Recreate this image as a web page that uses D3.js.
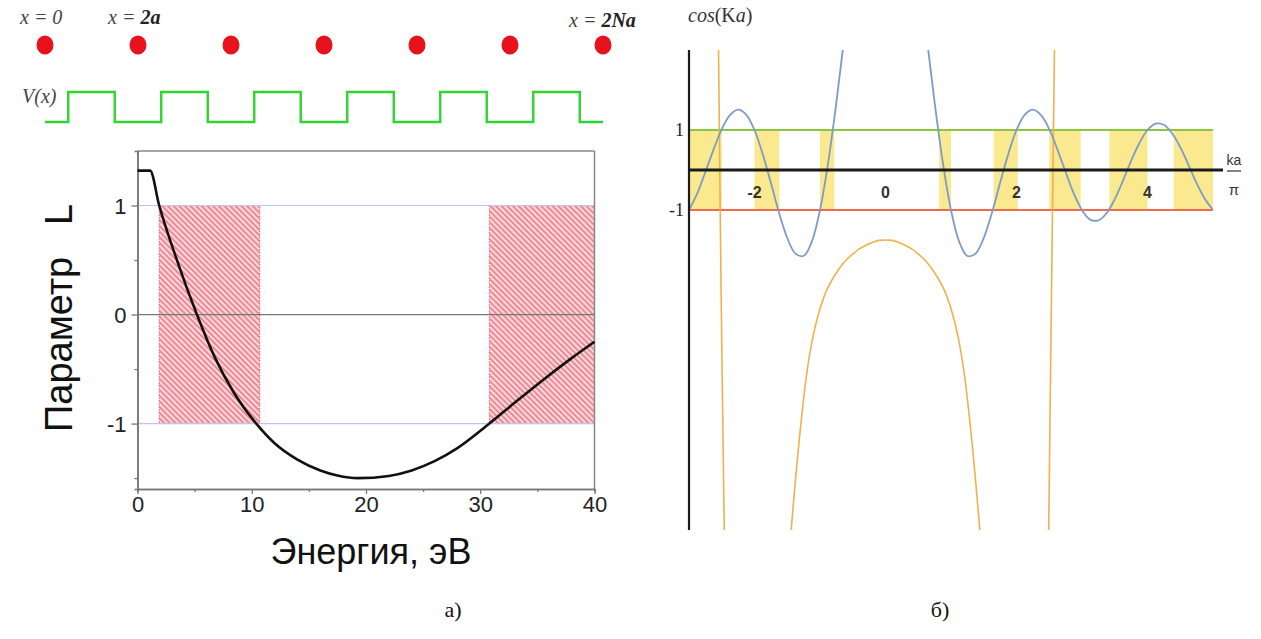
<!DOCTYPE html>
<html>
<head>
<meta charset="utf-8">
<script src="https://cdn.jsdelivr.net/npm/d3@7"></script>
<style>
  html, body { margin: 0; padding: 0; background: #fff; }
  svg { display: block; }
</style>
</head>
<body>
<svg id="fig" width="1261" height="639"></svg>
<script>
// ---------- lattice sketch (top left) ----------
const atomPositions = [0, 2, 4, 6, 8, 10, 12];          // in units of a
const barrierStart  = [0.5, 2.5, 4.5, 6.5, 8.5, 10.5];  // V(x) steps up
const barrierEnd    = [1.5, 3.5, 5.5, 7.5, 9.5, 11.5];  // V(x) steps down
const latticeExtent = [0, 12];

// ---------- panel a): parameter L versus energy ----------
const energy = [0, 1.1, 1.9, 3.55, 5.2, 6.8, 8.4, 10.4, 12, 14, 16, 17.5, 19.3, 22, 24, 26, 28, 30.8, 33, 35.5, 38, 40];
const paramL = [1.32, 1.32, 1.0, 0.47, 0, -0.4, -0.71, -1.0, -1.18, -1.33, -1.43, -1.476, -1.5, -1.48, -1.43, -1.345, -1.225, -1.0, -0.81, -0.6, -0.4, -0.25];
const allowedE0 = [1.9, 30.8];   // allowed band starts, eV
const allowedE1 = [10.7, 40];    // allowed band ends, eV
const energyTicks = [0, 10, 20, 30, 40];
const energyMinor = [5, 15, 25, 35];
const lTicks = [-1, 0, 1];
const lMinor = [-1.5, -0.5, 0.5];

// ---------- panel б): cos(Ka) versus ka/pi ----------
const kaBlue = [-3, -2.875, -2.75, -2.625, -2.5, -2.375, -2.25, -2.125, -2, -1.875, -1.75, -1.625, -1.5, -1.375, -1.25, -1.125, -1, -0.875, -0.75, -0.625, -0.5,
                NaN,
                0.5, 0.625, 0.75, 0.875, 1, 1.125, 1.25, 1.375, 1.5, 1.625, 1.75, 1.875, 2, 2.125, 2.25, 2.375, 2.5, 2.625, 2.75, 2.875, 3,
                3.125, 3.25, 3.375, 3.5, 3.625, 3.75, 3.875, 4, 4.125, 4.25, 4.375, 4.5, 4.625, 4.75, 4.875, 5];
const cosBlue = [-1.0, -0.59, -0.05, 0.51, 1.02, 1.37, 1.51, 1.38, 1.0, 0.40, -0.32, -1.07, -1.70, -2.09, -2.15, -1.79, -1.0, 0.19, 1.69, 3.38, 5.1,
                 NaN,
                 5.1, 3.38, 1.69, 0.19, -1.0, -1.79, -2.15, -2.09, -1.70, -1.07, -0.32, 0.40, 1.0, 1.38, 1.51, 1.37, 1.02, 0.51, -0.05, -0.59, -1.0,
                 -1.24, -1.26, -1.08, -0.73, -0.27, 0.23, 0.67, 1.0, 1.16, 1.13, 0.92, 0.57, 0.13, -0.33, -0.72, -1.0];
const kaOrange = [-2.55, -2.51, -2.46,
                  NaN,
                  -1.45, -1.4, -1.3, -1.2, -1.1, -1.0, -0.9, -0.8, -0.7, -0.6, -0.5, -0.4, -0.3, -0.2, -0.1, 0,
                  0.1, 0.2, 0.3, 0.4, 0.5, 0.6, 0.7, 0.8, 0.9, 1.0, 1.1, 1.2, 1.3, 1.4, 1.45,
                  NaN,
                  2.58, 2.535, 2.49];
const cosOrange = [3.1, -3.0, -9.2,
                   NaN,
                   -9.21, -8.22, -6.48, -5.06, -4.11, -3.47, -3.01, -2.70, -2.45, -2.25, -2.10, -1.97, -1.88, -1.81, -1.76, -1.75,
                   -1.76, -1.81, -1.88, -1.97, -2.10, -2.25, -2.45, -2.70, -3.01, -3.47, -4.11, -5.06, -6.48, -8.22, -9.21,
                   NaN,
                   3.1, -3.0, -9.2];
const bandStart = [-3, -2.0, -1.0, 0.82, 1.65, 2.5, 3.42, 4.4];
const bandEnd   = [-2.5, -1.62, -0.78, 1.0, 2.02, 2.98, 4.0, 5.0];
const kaTicks = [-2, 0, 2, 4];
const cosTicks = [-1, 1];

const svg = d3.select("#fig");
svg.append("rect").attr("width", 1261).attr("height", 639).attr("fill", "#fff");
const defs = svg.append("defs");
const hyphenInt = d => d3.format("d")(d).replace("\u2212", "-");

// =============== lattice & potential ===============
const xLat = d3.scaleLinear().domain(latticeExtent).range([45, 603]);
const yPot = d3.scaleOrdinal().domain(["low", "high"]).range([122, 92]);

svg.append("g").selectAll("ellipse").data(atomPositions).join("ellipse")
  .attr("cx", d => xLat(d)).attr("cy", 45).attr("rx", 8.5).attr("ry", 9.5)
  .attr("fill", "#e8121c");

const potPts = [[latticeExtent[0], "low"]];
barrierStart.forEach((s, i) => {
  potPts.push([s, "low"], [s, "high"], [barrierEnd[i], "high"], [barrierEnd[i], "low"]);
});
potPts.push([latticeExtent[1], "low"]);
svg.append("path")
  .attr("d", d3.line().x(d => xLat(d[0])).y(d => yPot(d[1]))(potPts))
  .attr("fill", "none").attr("stroke", "#2fd42f").attr("stroke-width", 2.4);

const serif = "'Liberation Serif', 'DejaVu Serif', serif";
function latLabel(x, y, plain, bold) {
  const t = svg.append("text").attr("x", x).attr("y", y)
    .attr("font-family", serif).attr("font-size", 20).attr("font-style", "italic").attr("fill", "#444");
  t.append("tspan").text(plain);
  if (bold) t.append("tspan").attr("font-weight", "bold").attr("fill", "#222").text(bold);
}
latLabel(20, 24, "x = 0");
latLabel(108, 24, "x = ", "2a");
latLabel(569, 27, "x = ", "2Na");
svg.append("text").attr("x", 22).attr("y", 103)
  .attr("font-family", serif).attr("font-size", 20).attr("font-style", "italic").attr("fill", "#444")
  .text("V(x)");

// =============== panel a) ===============
const sans = "'Liberation Sans', Arial, sans-serif";
const xE = d3.scaleLinear().domain([0, 40]).range([137.5, 594.5]);
const yL = d3.scaleLinear().domain([-1.6, 1.5]).range([489, 151]);

// hatched fill for allowed bands
const pat = defs.append("pattern").attr("id", "hatch")
  .attr("patternUnits", "userSpaceOnUse").attr("width", 4).attr("height", 4)
  .attr("patternTransform", "rotate(-45)");
pat.append("rect").attr("width", 4).attr("height", 4).attr("fill", "#fbd9dc");
pat.append("line").attr("x1", 1).attr("y1", 0).attr("x2", 1).attr("y2", 4)
  .attr("stroke", "#e9707c").attr("stroke-width", 1.5);

const gA = svg.append("g");
gA.selectAll("rect.band").data(allowedE0).join("rect").attr("class", "band")
  .attr("x", d => xE(d)).attr("y", yL(1))
  .attr("width", (d, i) => xE(allowedE1[i]) - xE(d)).attr("height", yL(-1) - yL(1))
  .attr("fill", "url(#hatch)").attr("stroke", "#e45a6a").attr("stroke-width", 1)
  .attr("stroke-dasharray", "1.5,1.5");

// reference levels L = ±1 and L = 0
gA.selectAll("line.lev").data([1, -1]).join("line").attr("class", "lev")
  .attr("x1", xE(0)).attr("x2", xE(40)).attr("y1", d => yL(d)).attr("y2", d => yL(d))
  .attr("stroke", "#c3c3ee").attr("stroke-width", 1.2);
gA.append("line").attr("x1", xE(0)).attr("x2", xE(40)).attr("y1", yL(0)).attr("y2", yL(0))
  .attr("stroke", "#777").attr("stroke-width", 1.3);

// frame
gA.append("line").attr("x1", xE(0)).attr("x2", xE(40)).attr("y1", yL(1.5)).attr("y2", yL(1.5))
  .attr("stroke", "#888").attr("stroke-width", 1.5);
gA.append("line").attr("x1", xE(40)).attr("x2", xE(40)).attr("y1", yL(1.5)).attr("y2", yL(-1.6))
  .attr("stroke", "#888").attr("stroke-width", 1.5);

// axes
const axB = gA.append("g").attr("transform", `translate(0,${yL(-1.6)})`)
  .call(d3.axisBottom(xE).tickValues(energyTicks).tickSize(5).tickSizeOuter(0).tickPadding(4));
const axBm = gA.append("g").attr("transform", `translate(0,${yL(-1.6)})`)
  .call(d3.axisBottom(xE).tickValues(energyMinor).tickSize(3).tickFormat(""));
const axL = gA.append("g").attr("transform", `translate(${xE(0)},0)`)
  .call(d3.axisLeft(yL).tickValues(lTicks).tickSize(6).tickSizeOuter(0).tickPadding(5).tickFormat(hyphenInt));
const axLm = gA.append("g").attr("transform", `translate(${xE(0)},0)`)
  .call(d3.axisLeft(yL).tickValues(lMinor).tickSize(3).tickFormat(""));
[axB, axBm, axL, axLm].forEach(a => {
  a.select(".domain").attr("stroke", "#777").attr("stroke-width", 1.6);
  a.selectAll(".tick line").attr("stroke", "#777").attr("stroke-width", 1.3);
  a.selectAll("text").attr("font-family", sans).attr("font-size", 22).attr("fill", "#222");
});
axB.selectAll("text").attr("dy", "0.62em");
axL.selectAll("text").attr("dy", "0.35em");

// L(E) curve
gA.append("path")
  .attr("d", d3.line().x((d, i) => xE(d)).y((d, i) => yL(paramL[i])).curve(d3.curveMonotoneX)(energy))
  .attr("fill", "none").attr("stroke", "#111").attr("stroke-width", 2.6);

// axis titles
gA.append("text").attr("x", 371).attr("y", 564).attr("text-anchor", "middle")
  .attr("font-family", sans).attr("font-size", 36).attr("fill", "#111").text("Энергия, эВ");
gA.append("text").attr("transform", `translate(72,318) rotate(-90)`).attr("text-anchor", "middle")
  .attr("font-family", sans).attr("font-size", 38).attr("fill", "#111").attr("xml:space", "preserve")
  .text("Параметр   L");

// =============== panel б) ===============
const xK = d3.scaleLinear().domain([-3, 5]).range([689, 1213]);
const yC = d3.scaleLinear().domain([-9, 3]).range([530, 50]);

defs.append("clipPath").attr("id", "clipB").append("rect")
  .attr("x", xK(-3)).attr("y", yC(3)).attr("width", xK(5) - xK(-3)).attr("height", yC(-9) - yC(3));

const gB = svg.append("g");
gB.selectAll("rect.allowed").data(bandStart).join("rect").attr("class", "allowed")
  .attr("x", d => xK(d)).attr("y", yC(1))
  .attr("width", (d, i) => xK(bandEnd[i]) - xK(d)).attr("height", yC(-1) - yC(1))
  .attr("fill", "#fbe98f");

gB.append("line").attr("x1", xK(-3)).attr("x2", xK(5)).attr("y1", yC(1)).attr("y2", yC(1))
  .attr("stroke", "#8cc540").attr("stroke-width", 1.8);
gB.append("line").attr("x1", xK(-3)).attr("x2", xK(5)).attr("y1", yC(-1)).attr("y2", yC(-1))
  .attr("stroke", "#f26a4c").attr("stroke-width", 1.8);

const lineK = (ys) => d3.line().defined((d, i) => !isNaN(d) && !isNaN(ys[i]))
  .x(d => xK(d)).y((d, i) => yC(ys[i])).curve(d3.curveCatmullRom.alpha(0.5));

const gClip = gB.append("g").attr("clip-path", "url(#clipB)");
gClip.append("path").attr("d", lineK(cosOrange)(kaOrange))
  .attr("fill", "none").attr("stroke", "#efb24a").attr("stroke-width", 1.6);
gClip.append("path").attr("d", lineK(cosBlue)(kaBlue))
  .attr("fill", "none").attr("stroke", "#7c9cc8").attr("stroke-width", 1.8);

// axes of panel б)
gB.append("line").attr("x1", xK(-3)).attr("x2", 1223).attr("y1", yC(0)).attr("y2", yC(0))
  .attr("stroke", "#1a1a1a").attr("stroke-width", 3);
gB.append("line").attr("x1", xK(-3)).attr("x2", xK(-3)).attr("y1", yC(3)).attr("y2", yC(-9))
  .attr("stroke", "#1a1a1a").attr("stroke-width", 2.2);

gB.selectAll("text.kt").data(kaTicks).join("text").attr("class", "kt")
  .attr("x", d => xK(d)).attr("y", yC(0) + 28).attr("text-anchor", "middle")
  .attr("font-family", sans).attr("font-size", 16).attr("font-weight", "bold").attr("fill", "#333")
  .text(hyphenInt);
gB.selectAll("text.ct").data(cosTicks).join("text").attr("class", "ct")
  .attr("x", xK(-3) - 5).attr("y", d => yC(d) + 6).attr("text-anchor", "end")
  .attr("font-family", serif).attr("font-size", 18).attr("fill", "#222")
  .text(hyphenInt);

// axis titles of panel б)
const ct = gB.append("text").attr("x", 688).attr("y", 22)
  .attr("font-family", serif).attr("font-size", 20).attr("fill", "#333");
ct.append("tspan").attr("font-style", "italic").text("cos");
ct.append("tspan").text("(K");
ct.append("tspan").attr("font-style", "italic").text("a");
ct.append("tspan").text(")");

gB.append("text").attr("x", 1234).attr("y", 165).attr("text-anchor", "middle")
  .attr("font-family", sans).attr("font-size", 14).attr("fill", "#333").text("ka");
gB.append("line").attr("x1", 1227).attr("x2", 1241).attr("y1", 171).attr("y2", 171)
  .attr("stroke", "#333").attr("stroke-width", 1.2);
gB.append("text").attr("x", 1234).attr("y", 195).attr("text-anchor", "middle")
  .attr("font-family", sans).attr("font-size", 15).attr("fill", "#333").text("π");

// panel captions
svg.append("text").attr("x", 453).attr("y", 617).attr("text-anchor", "middle")
  .attr("font-family", serif).attr("font-size", 22).attr("fill", "#111").text("а)");
svg.append("text").attr("x", 940).attr("y", 617).attr("text-anchor", "middle")
  .attr("font-family", serif).attr("font-size", 22).attr("fill", "#111").text("б)");
</script>
</body>
</html>
